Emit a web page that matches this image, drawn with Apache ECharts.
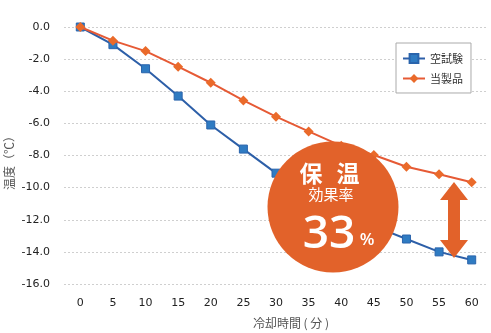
<!DOCTYPE html>
<html>
<head>
<meta charset="utf-8">
<script src="https://cdn.jsdelivr.net/npm/echarts@6/dist/echarts.min.js"></script>
<style>
  html, body { margin: 0; padding: 0; background: #fff; }
  #chart { width: 491px; height: 333px; }
</style>
</head>
<body>
<div id="chart"></div>
<script>
// Cooling time (minutes)
const minutes = ['0', '5', '10', '15', '20', '25', '30', '35', '40', '45', '50', '55', '60'];
// Temperature change (°C): blank test vs. product
const blankTest = [0, -1.1, -2.6, -4.3, -6.1, -7.6, -9.1, -10.4, -11.5, -12.4, -13.2, -14.0, -14.5];
const product = [0, -0.85, -1.5, -2.47, -3.47, -4.57, -5.58, -6.5, -7.4, -7.97, -8.7, -9.17, -9.67];
const seriesNames = ['空試験', '当製品'];
const yAxisTitle = '温度（℃）';

const FONT = '"Noto Sans CJK JP", "Noto Sans", sans-serif';
const NUM_FONT = '"DejaVu Sans", sans-serif';
const ORANGE = '#e2622a';

const chart = echarts.init(document.getElementById('chart'), null, { renderer: 'canvas' });

chart.setOption({
  animation: false,
  backgroundColor: '#ffffff',
  textStyle: { fontFamily: FONT },
  grid: { left: 64, right: 3, top: 27, bottom: 49, containLabel: false, outerBoundsMode: 'none' },
  legend: {
    orient: 'vertical',
    left: 396,
    top: 43,
    width: 73,
    padding: [10, 8, 9, 6],
    itemGap: 9,
    itemWidth: 22,
    itemHeight: 11,
    borderColor: '#aaaaaa',
    borderWidth: 1,
    backgroundColor: '#ffffff',
    textStyle: { fontSize: 11, color: '#333', fontFamily: FONT },
    data: seriesNames
  },
  xAxis: {
    type: 'category',
    data: minutes,
    boundaryGap: true,
    name: '冷却時間 ( 分 )',
    nameLocation: 'middle',
    nameGap: 33,
    nameTextStyle: { fontSize: 12, color: '#555', fontFamily: FONT, padding: [0, 0, 0, 30] },
    axisLine: { show: false },
    axisTick: { show: false },
    axisLabel: { fontSize: 11, color: '#222', margin: 14, fontFamily: NUM_FONT },
    splitLine: { show: false }
  },
  yAxis: {
    type: 'value',
    min: -16,
    max: 0,
    interval: 2,
    axisLine: { show: false },
    axisTick: { show: false },
    axisLabel: {
      fontSize: 11, color: '#222', margin: 14, fontFamily: NUM_FONT,
      formatter: v => v.toFixed(1)
    },
    splitLine: { show: true, lineStyle: { color: '#cfcfcf', type: [2, 2], width: 1 } }
  },
  series: [
    {
      name: seriesNames[0],
      type: 'line',
      data: blankTest,
      symbol: 'rect',
      symbolSize: 8,
      lineStyle: { color: '#2d5fa8', width: 2 },
      itemStyle: { color: '#2f7bc2', borderColor: '#2a64ac', borderWidth: 1 },
      z: 2
    },
    {
      name: seriesNames[1],
      type: 'line',
      data: product,
      symbol: 'diamond',
      symbolSize: 10,
      lineStyle: { color: '#e65a35', width: 2 },
      itemStyle: { color: '#ea6a2a', borderColor: '#e65a35', borderWidth: 0 },
      z: 3
    }
  ],
  graphic: [
    {
      // vertical y-axis title
      type: 'text',
      x: 9, y: 160,
      rotation: Math.PI / 2,
      style: { text: yAxisTitle, fill: '#555', font: '12px ' + FONT, align: 'center', verticalAlign: 'middle' },
      z: 50
    },
    {
      type: 'circle',
      shape: { cx: 333, cy: 207, r: 65.5 },
      style: { fill: ORANGE },
      z: 100
    },
    {
      type: 'text',
      x: 311, y: 173,
      style: { text: '保', fill: '#fff', font: 'bold 23px ' + FONT, align: 'center', verticalAlign: 'middle' },
      z: 101
    },
    {
      type: 'text',
      x: 348, y: 173,
      style: { text: '温', fill: '#fff', font: 'bold 23px ' + FONT, align: 'center', verticalAlign: 'middle' },
      z: 101
    },
    {
      type: 'text',
      x: 331, y: 194,
      style: { text: '効果率', fill: '#fff', font: '15px ' + FONT, align: 'center', verticalAlign: 'middle' },
      z: 101
    },
    {
      type: 'text',
      x: 329, y: 235,
      style: { text: '33', fill: '#fff', font: '600 46px "Open Sans", sans-serif', align: 'center', verticalAlign: 'middle' },
      z: 101
    },
    {
      type: 'text',
      x: 367, y: 240,
      style: { text: '%', fill: '#fff', font: '600 17px "Open Sans", sans-serif', align: 'center', verticalAlign: 'middle' },
      z: 101
    },
    {
      // double-headed arrow between the two curves
      type: 'polygon',
      shape: {
        points: [
          [454, 182], [468, 200], [460, 200], [460, 240], [468, 240],
          [454, 258], [440, 240], [448, 240], [448, 200], [440, 200]
        ]
      },
      style: { fill: ORANGE },
      z: 100
    }
  ]
});
</script>
</body>
</html>
